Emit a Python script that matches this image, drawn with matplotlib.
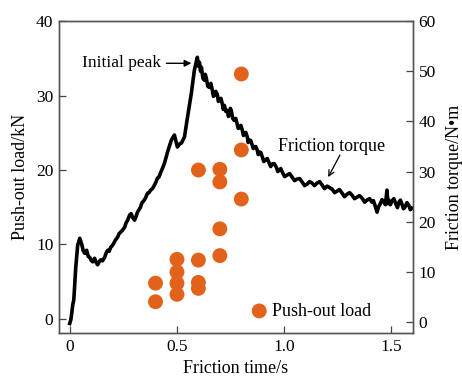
import matplotlib
matplotlib.use("Agg")
import matplotlib.pyplot as plt

plt.rcParams['font.family'] = ['Liberation Serif', 'DejaVu Serif']

# friction torque curve (N*m)
t_torque = [0.0, 0.005, 0.009, 0.014, 0.019, 0.023, 0.028, 0.033, 0.037, 0.047,
            0.056, 0.063, 0.070, 0.079, 0.086, 0.093, 0.100, 0.107, 0.116, 0.123,
            0.130, 0.137, 0.144, 0.153, 0.163, 0.170, 0.177, 0.184, 0.191, 0.198,
            0.205, 0.214, 0.223, 0.230, 0.237, 0.246, 0.256, 0.263, 0.270, 0.279,
            0.286, 0.293, 0.302, 0.309, 0.316, 0.323, 0.330, 0.337, 0.344, 0.353,
            0.363, 0.370, 0.377, 0.386, 0.395, 0.402, 0.409, 0.416, 0.423, 0.432,
            0.442, 0.456, 0.474, 0.488, 0.502, 0.512, 0.521, 0.535, 0.549, 0.567,
            0.581, 0.595, 0.600, 0.605, 0.610, 0.614, 0.621, 0.628, 0.632, 0.637,
            0.644, 0.651, 0.658, 0.665, 0.670, 0.674, 0.681, 0.688, 0.693, 0.698,
            0.705, 0.712, 0.716, 0.721, 0.728, 0.735, 0.740, 0.744, 0.749, 0.753,
            0.760, 0.767, 0.774, 0.781, 0.786, 0.791, 0.798, 0.805, 0.810, 0.814,
            0.821, 0.828, 0.832, 0.837, 0.844, 0.851, 0.856, 0.860, 0.867, 0.874,
            0.879, 0.884, 0.891, 0.898, 0.905, 0.912, 0.921, 0.930, 0.937, 0.944,
            0.953, 0.963, 0.970, 0.977, 0.984, 0.991, 1.002, 1.014, 1.025, 1.037,
            1.048, 1.060, 1.072, 1.084, 1.095, 1.107, 1.118, 1.130, 1.141, 1.153,
            1.165, 1.177, 1.188, 1.200, 1.212, 1.223, 1.235, 1.247, 1.258, 1.270,
            1.281, 1.293, 1.305, 1.316, 1.328, 1.340, 1.351, 1.363, 1.375, 1.386,
            1.398, 1.409, 1.416, 1.423, 1.433, 1.440, 1.447, 1.456, 1.465, 1.472,
            1.479, 1.484, 1.488, 1.495, 1.502, 1.511, 1.521, 1.528, 1.535, 1.542,
            1.549, 1.556, 1.563, 1.572, 1.581, 1.588, 1.595]
torque = [-0.3, 0.4, 1.6, 3.4, 4.4, 7.2, 10.8, 13.3, 15.3, 16.7,
          15.5, 14.2, 13.7, 14.3, 13.1, 12.9, 12.3, 12.0, 12.7, 11.9,
          11.4, 12.0, 12.4, 12.2, 12.9, 13.8, 14.3, 14.1, 14.9, 15.2,
          15.7, 16.4, 16.9, 17.6, 17.9, 18.3, 18.9, 19.8, 20.3, 21.3,
          21.6, 20.9, 20.3, 21.0, 21.9, 22.4, 22.9, 23.8, 24.1, 24.7,
          25.7, 25.8, 26.3, 26.6, 27.3, 27.9, 28.7, 28.9, 29.7, 30.6,
          31.7, 33.9, 36.3, 37.3, 34.9, 35.5, 35.7, 36.9, 40.8, 45.6,
          50.2, 52.8, 51.0, 51.8, 50.0, 50.8, 48.6, 48.2, 49.4, 48.6,
          47.0, 46.8, 47.6, 46.2, 45.0, 45.2, 46.0, 45.4, 44.0, 44.2,
          44.6, 43.4, 42.4, 43.2, 42.0, 42.2, 41.0, 41.6, 42.6, 42.2,
          40.6, 40.2, 40.6, 39.4, 38.6, 38.8, 39.2, 38.2, 37.2, 37.6,
          37.8, 36.9, 35.8, 36.3, 36.2, 35.3, 34.6, 34.9, 35.0, 34.3,
          33.4, 33.9, 33.8, 32.9, 32.0, 32.3, 32.6, 31.7, 31.0, 31.5,
          31.6, 30.9, 30.0, 30.3, 30.6, 29.9, 29.0, 29.3, 29.6, 28.9,
          28.2, 28.5, 28.6, 27.9, 27.2, 27.5, 28.0, 27.7, 27.2, 27.7,
          28.0, 27.3, 26.6, 27.1, 26.8, 26.5, 25.8, 26.1, 26.4, 25.7,
          25.0, 25.5, 25.8, 25.3, 24.6, 24.9, 25.2, 24.7, 23.9, 24.3,
          24.6, 23.9, 24.2, 23.3, 21.9, 23.0, 23.5, 24.4, 23.9, 23.4,
          26.3, 23.6, 24.3, 23.4, 24.1, 24.6, 23.5, 22.8, 23.9, 24.3,
          23.5, 22.6, 22.9, 23.8, 23.3, 22.4, 22.7]

# push-out load points (kN)
t_load = [0.4, 0.4, 0.5, 0.5, 0.5, 0.5, 0.6, 0.6, 0.6, 0.6,
          0.7, 0.7, 0.7, 0.7, 0.8, 0.8, 0.8]
load = [4.8, 2.3, 8.0, 6.3, 4.8, 3.3, 20.0, 7.9, 4.9, 4.1,
        20.1, 18.4, 12.1, 8.5, 32.9, 22.7, 16.1]

fig = plt.figure(figsize=(4.62, 3.78), dpi=100)
ax = fig.add_axes([0.1277, 0.119, 0.766, 0.825])
ax2 = ax.twinx()

ax2.plot(t_torque, torque, color='black', lw=2.6, zorder=2)
ax.scatter(t_load, load, s=115, color='#e2621b', edgecolors='none',
           label='Push-out load', zorder=3)

ax.set_xlim(-0.05, 1.6)
ax.set_ylim(-1.9, 40)
ax2.set_ylim(-2.2, 60)
ax.set_xticks([0, 0.5, 1.0, 1.5])
ax.set_xticklabels(['0', '0.5', '1.0', '1.5'])
ax.set_yticks([0, 10, 20, 30, 40])
ax2.set_yticks([0, 10, 20, 30, 40, 50, 60])

for a in (ax, ax2):
    a.tick_params(direction='in', length=5, width=0.9, labelsize=12.5,
                  color='#444444', pad=4)
    for s in a.spines.values():
        s.set_color('#555555')
        s.set_linewidth(1.0)

ax.set_xlabel('Friction time/s', fontsize=13, labelpad=4)
ax.set_ylabel('Push-out load/kN', fontsize=13, labelpad=5)
ax2.set_ylabel('Friction torque/N\u2022m', fontsize=13, labelpad=7)

ax2.annotate('Initial peak', xy=(0.567, 51.6), xytext=(0.425, 51.6),
             ha='right', va='center', fontsize=12.5,
             arrowprops=dict(arrowstyle='-|>', color='black', lw=1.0,
                             mutation_scale=10, shrinkA=2, shrinkB=0))
ax2.annotate('', xy=(1.205, 28.9), xytext=(1.26, 33.3),
             arrowprops=dict(arrowstyle='->', color='black', lw=0.9,
                             mutation_scale=10, shrinkA=0, shrinkB=0))
ax2.text(1.223, 35.0, 'Friction torque', ha='center', va='center', fontsize=13)

ax.legend(loc='center left', bbox_to_anchor=(0.525, 0.07), frameon=False,
          fontsize=13, handlelength=0.8, handletextpad=0.3, borderaxespad=0)

fig.savefig('out.png', dpi=100)
